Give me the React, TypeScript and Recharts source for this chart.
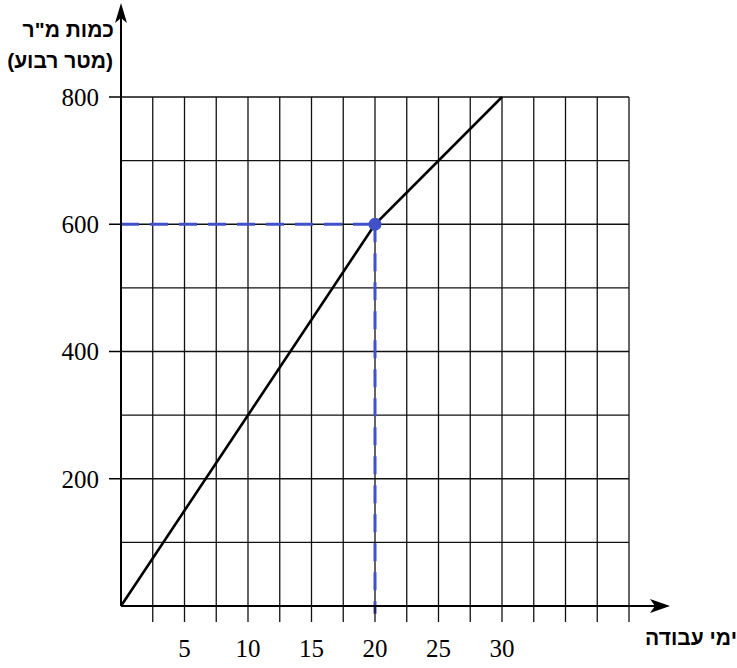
import React from "react";
import {
  LineChart,
  Line,
  XAxis,
  YAxis,
  CartesianGrid,
  ReferenceLine,
  ReferenceDot,
} from "recharts";

// ---- data ----
const days = [0, 20, 30];
const squareMeters = [0, 600, 800];
const xTicks = [2.5, 5, 7.5, 10, 12.5, 15, 17.5, 20, 22.5, 25, 27.5, 30, 32.5, 35, 37.5, 40];
const xLabelValues = [5, 10, 15, 20, 25, 30];
const yTicks = [200, 400, 600, 800];
const gridY = [0, 100, 200, 300, 400, 500, 600, 700, 800];
const gridX = [0, ...xTicks];
const highlightDay = 20;
const highlightValue = 600;
const yTitleLine1 = 'כמות מ"ר';
const yTitleLine2 = "(מטר רבוע)";
const xTitle = "ימי עבודה";

const data = days.map((d, i) => ({ day: d, value: squareMeters[i] }));

const BLUE = "#4151c8";
const SERIF = '"Liberation Serif", "Times New Roman", serif';
const SANS = '"Liberation Sans", "DejaVu Sans", Arial, sans-serif';

const XArrow = (p: any) => {
  const { x1, y1 } = p;
  const tipX = 670;
  return (
    <g>
      <line x1={x1} y1={y1} x2={tipX - 8} y2={y1} stroke="#000" strokeWidth={2} />
      <polygon
        points={`${tipX},${y1} ${tipX - 20},${y1 - 7} ${tipX - 15},${y1} ${tipX - 20},${y1 + 7}`}
        fill="#000"
      />
    </g>
  );
};

const YArrow = (p: any) => {
  const { x1, y1 } = p;
  const tipY = 3;
  return (
    <g>
      <line x1={x1} y1={y1} x2={x1} y2={tipY + 8} stroke="#000" strokeWidth={2} />
      <polygon
        points={`${x1},${tipY} ${x1 - 6},${tipY + 20} ${x1},${tipY + 15} ${x1 + 6},${tipY + 20}`}
        fill="#000"
      />
    </g>
  );
};

const titleStyle: React.CSSProperties = {
  position: "absolute",
  fontFamily: SANS,
  fontWeight: "bold",
  fontSize: 21,
  lineHeight: "21px",
  whiteSpace: "nowrap",
  color: "#000",
};

export default function App() {
  return (
    <div style={{ position: "absolute", left: 0, top: 0, width: 737, height: 668, background: "#fff" }}>
      <LineChart
        width={737}
        height={668}
        data={data}
        margin={{ top: 97, right: 108, bottom: 0, left: 0 }}
      >
        <CartesianGrid
          horizontalValues={gridY}
          verticalValues={gridX}
          stroke="#111"
          strokeWidth={1.3}
        />
        <XAxis
          dataKey="day"
          type="number"
          domain={[0, 40]}
          ticks={xTicks}
          interval={0}
          height={62}
          axisLine={false}
          tickLine={{ stroke: "#111", strokeWidth: 1.3 }}
          tickSize={16}
          tickMargin={17}
          tickFormatter={(v: number) => (xLabelValues.includes(v) ? String(v) : "")}
          tick={{ fill: "#000", fontSize: 25, fontFamily: SERIF }}
        />
        <YAxis
          type="number"
          domain={[0, 800]}
          ticks={yTicks}
          interval={0}
          width={121}
          axisLine={false}
          tickLine={{ stroke: "#000", strokeWidth: 1.5 }}
          tickSize={12}
          tickMargin={10}
          tick={{ fill: "#000", fontSize: 25, fontFamily: SERIF }}
        />
        <Line
          dataKey="value"
          stroke="#000"
          strokeWidth={2.6}
          dot={false}
          isAnimationActive={false}
          type="linear"
        />
        <ReferenceLine
          segment={[{ x: 0, y: highlightValue }, { x: highlightDay, y: highlightValue }]}
          stroke={BLUE}
          strokeWidth={3}
          strokeDasharray="18 11"
          ifOverflow="visible"
        />
        <ReferenceLine
          segment={[{ x: highlightDay, y: highlightValue }, { x: highlightDay, y: -12 }]}
          stroke={BLUE}
          strokeWidth={3}
          strokeDasharray="18 11"
          ifOverflow="visible"
        />
        <ReferenceLine
          segment={[{ x: 0, y: 0 }, { x: 40, y: 0 }]}
          ifOverflow="visible"
          shape={XArrow}
        />
        <ReferenceLine
          segment={[{ x: 0, y: 0 }, { x: 0, y: 800 }]}
          ifOverflow="visible"
          shape={YArrow}
        />
        <ReferenceDot
          x={highlightDay}
          y={highlightValue}
          r={6.5}
          fill={BLUE}
          stroke="none"
          ifOverflow="visible"
        />
      </LineChart>
      <div dir="rtl" style={{ ...titleStyle, right: 737 - 114, top: 19 }}>
        {yTitleLine1}
      </div>
      <div dir="rtl" style={{ ...titleStyle, right: 737 - 113, top: 50 }}>
        {yTitleLine2}
      </div>
      <div dir="rtl" style={{ ...titleStyle, right: 0, top: 627 }}>
        {xTitle}
      </div>
    </div>
  );
}
